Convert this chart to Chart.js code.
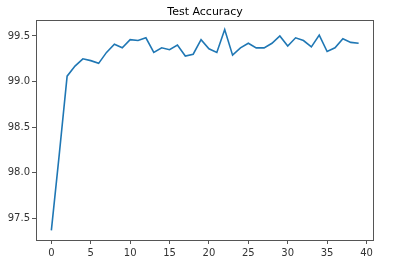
<!DOCTYPE html>
<html>
<head>
<meta charset="utf-8">
<script src="https://cdn.jsdelivr.net/npm/chart.js@4/dist/chart.umd.min.js"></script>
<style>
  html, body { margin: 0; padding: 0; background: #fff; }
  #wrap { width: 400px; height: 266px; }
</style>
</head>
<body>
<div id="wrap"><canvas id="myChart" width="400" height="266"></canvas></div>
<script>
// epoch index and test accuracy
const epochs = [0, 1, 2, 3, 4, 5, 6, 7, 8, 9, 10, 11, 12, 13, 14, 15, 16, 17, 18, 19,
  20, 21, 22, 23, 24, 25, 26, 27, 28, 29, 30, 31, 32, 33, 34, 35, 36, 37, 38, 39];
const accuracy = [97.37, 98.2, 99.06, 99.17, 99.25, 99.23, 99.2, 99.32, 99.41, 99.37,
  99.46, 99.45, 99.48, 99.32, 99.37, 99.35, 99.4, 99.28, 99.3, 99.46,
  99.36, 99.32, 99.57, 99.29, 99.37, 99.42, 99.37, 99.37, 99.42, 99.5,
  99.39, 99.48, 99.45, 99.38, 99.51, 99.33, 99.37, 99.47, 99.43, 99.42];
const xTicks = [0, 5, 10, 15, 20, 25, 30, 35, 40];
const yTicks = [97.5, 98.0, 98.5, 99.0, 99.5];

const ctx = document.getElementById("myChart");

// matplotlib style box around the axes
const frame = {
  id: "frame",
  afterDraw(chart) {
    const { ctx, chartArea: a } = chart;
    ctx.save();
    ctx.strokeStyle = "#555";
    ctx.lineWidth = 1;
    ctx.strokeRect(a.left + 0.5, a.top + 0.5, a.right - a.left - 1, a.bottom - a.top);
    ctx.restore();
  },
};

new Chart(ctx, {
  type: "line",
  data: {
    datasets: [
      {
        data: epochs.map((e, i) => ({ x: e, y: accuracy[i] })),
        borderColor: "#1f77b4",
        borderWidth: 1.6,
        pointRadius: 0,
        tension: 0,
        fill: false,
      },
    ],
  },
  options: {
    responsive: false,
    animation: false,
    layout: { padding: { left: 0, right: 26, top: 0, bottom: 0 } },
    scales: {
      x: {
        type: "linear",
        min: -1.95,
        max: 40.95,
        afterBuildTicks: (s) => { s.ticks = xTicks.map((v) => ({ value: v })); },
        afterFit: (s) => { s.height = 26; },
        grid: { drawOnChartArea: false, tickLength: 4, color: "#555" },
        border: { display: false },
        ticks: {
          color: "#333",
          padding: 3,
          maxRotation: 0,
          font: { family: "DejaVu Sans", size: 10 },
          callback: (v) => String(v),
        },
      },
      y: {
        min: 97.265,
        max: 99.675,
        afterBuildTicks: (s) => { s.ticks = yTicks.map((v) => ({ value: v })); },
        afterFit: (s) => { s.width = 36; },
        grid: { drawOnChartArea: false, tickLength: 4, color: "#555" },
        border: { display: false },
        ticks: {
          color: "#333",
          padding: 2,
          font: { family: "DejaVu Sans", size: 10 },
          callback: (v) => v.toFixed(1),
        },
      },
    },
    plugins: {
      legend: { display: false },
      tooltip: { enabled: false },
      title: {
        display: true,
        fullSize: false,
        text: "Test Accuracy",
        color: "#000",
        font: { family: "DejaVu Sans", size: 11, weight: "normal", lineHeight: 1.2 },
        padding: { top: 5.4, bottom: 1.4 },
      },
    },
  },
  plugins: [frame],
});
</script>
</body>
</html>
